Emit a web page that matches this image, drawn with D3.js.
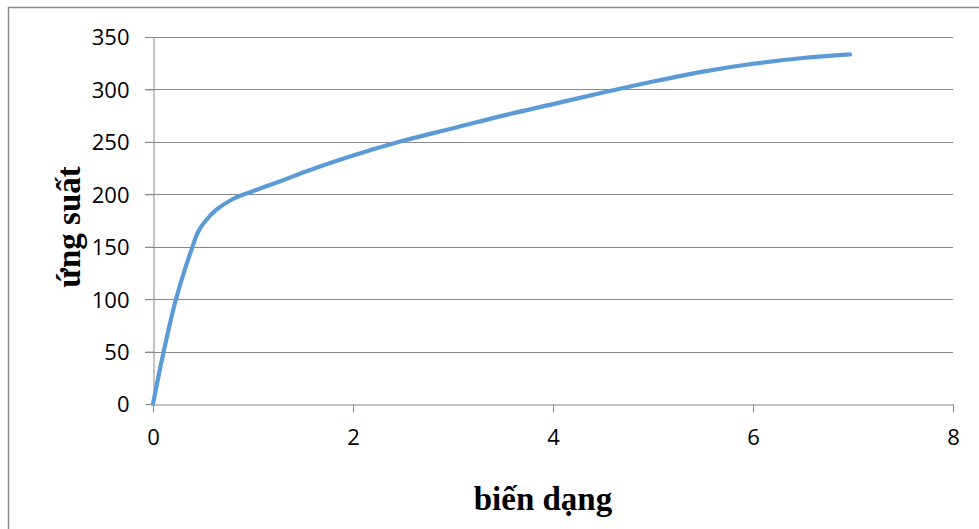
<!DOCTYPE html>
<html><head><meta charset="utf-8">
<script src="https://cdn.jsdelivr.net/npm/d3@7"></script>
<style>body{margin:0;background:#fff;} svg{display:block;}</style>
</head><body>
<svg id="c" width="979" height="529"></svg>
<script>
const strain = [0, 0.107, 0.23, 0.395, 0.453, 0.52, 0.637, 0.80, 0.97, 1.3, 1.55, 2.0, 2.5, 3.0, 3.5, 4.0, 4.5, 5.0, 5.5, 6.0, 6.5, 6.97];
const stress = [0, 50, 100, 150, 164.5, 174, 185.5, 195.5, 202, 213.4, 222.5, 237, 251, 263, 275, 286, 297, 307.5, 317, 324.5, 330, 333.5];
const xTicks = [0, 2, 4, 6, 8];
const yTicks = [0, 50, 100, 150, 200, 250, 300, 350];
const xTitle = "biến dạng";
const yTitle = "ứng suất";

(function () {
const svg = d3.select("#c");
const pL = 153, pR = 953, pT = 37, pB = 404;
const x = d3.scaleLinear().domain([0, 8]).range([pL, pR]);
const y = d3.scaleLinear().domain([0, 350]).range([pB, pT]);
const grid = "#888888";

svg.append("rect").attr("x", 8.5).attr("y", 7.5).attr("width", 1000).attr("height", 1000)
  .attr("fill", "none").attr("stroke", grid).attr("stroke-width", 1.5);

svg.append("g").selectAll("line").data(yTicks.filter(d => d > 0)).join("line")
  .attr("x1", pL - 8).attr("x2", pR)
  .attr("y1", d => Math.round(y(d)) + 0.5).attr("y2", d => Math.round(y(d)) + 0.5)
  .attr("stroke", grid).attr("stroke-width", 1);

const ya = svg.append("g").attr("transform", `translate(${pL + 0.5},0)`)
  .call(d3.axisLeft(y).tickValues(yTicks).tickSize(8).tickPadding(16).tickSizeOuter(0));
const xa = svg.append("g").attr("transform", `translate(0,${Math.round(pB) + 0.5})`)
  .call(d3.axisBottom(x).tickValues(xTicks).tickSize(8).tickPadding(16).tickSizeOuter(0));
[ya, xa].forEach(a => {
  a.selectAll("path,line").attr("stroke", grid).attr("stroke-width", 1);
  a.selectAll("text").attr("font-family", "'Open Sans', sans-serif").attr("font-size", 22).attr("fill", "#000");
});
ya.selectAll("text").attr("dy", "0.36em");
xa.selectAll("text").attr("dy", "0.75em");

const line = d3.line().x((d, i) => x(strain[i])).y(d => y(d)).curve(d3.curveCatmullRom.alpha(0.5));
svg.append("path").attr("d", line(stress)).attr("fill", "none")
  .attr("stroke", "#5b9bd5").attr("stroke-width", 4.2).attr("stroke-linecap", "round").attr("stroke-linejoin", "round");

svg.append("text").attr("x", 543).attr("y", 510).attr("text-anchor", "middle")
  .attr("font-family", "'Liberation Serif', 'Times New Roman', serif").attr("font-weight", "bold")
  .attr("font-size", 33).text(xTitle);
svg.append("text").attr("transform", "translate(80,227) rotate(-90)").attr("text-anchor", "middle")
  .attr("font-family", "'Liberation Serif', 'Times New Roman', serif").attr("font-weight", "bold")
  .attr("font-size", 33).text(yTitle);
})();
</script>
</body></html>
